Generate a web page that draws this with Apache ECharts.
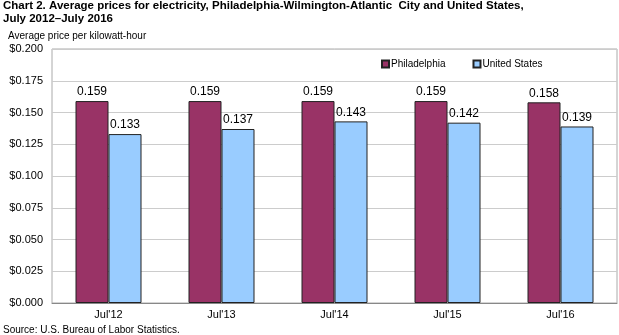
<!DOCTYPE html>
<html><head><meta charset="utf-8">
<script src="https://cdn.jsdelivr.net/npm/echarts@6/dist/echarts.min.js"></script>
<style>html,body{margin:0;padding:0;background:#fff}#c{width:619px;height:335px}</style>
</head><body><div id="c"></div>
<script>
const categories = ["Jul'12", "Jul'13", "Jul'14", "Jul'15", "Jul'16"];
const philadelphia = [0.159, 0.159, 0.159, 0.159, 0.158];
const unitedStates = [0.133, 0.137, 0.143, 0.142, 0.139];
const yTicks = [0, 0.025, 0.05, 0.075, 0.1, 0.125, 0.15, 0.175, 0.2];

const chart = echarts.init(document.getElementById('c'), null, {renderer: 'canvas'});
const F = 'Arial, "Liberation Sans", sans-serif';
chart.setOption({
  animation: false,
  textStyle: {fontFamily: F},
  title: [{
    text: 'Chart 2. Average prices for electricity, Philadelphia-Wilmington-Atlantic  City and United States,\nJuly 2012\u2013July 2016',
    left: 3, top: -1, padding: 0,
    textStyle: {fontFamily: F, fontSize: 11.5, fontWeight: 'bold', color: '#000', lineHeight: 13}
  }, {
    text: 'Average price per kilowatt-hour',
    left: 8, top: 30, padding: 0,
    textStyle: {fontFamily: F, fontSize: 10, fontWeight: 'normal', color: '#000', lineHeight: 12}
  }, {
    text: 'Source: U.S. Bureau of Labor Statistics.',
    left: 3, top: 324, padding: 0,
    textStyle: {fontFamily: F, fontSize: 10, fontWeight: 'normal', color: '#000', lineHeight: 12}
  }],
  legend: {
    left: 381, top: 59, padding: 0,
    itemWidth: 7, itemHeight: 7, itemGap: 27,
    icon: 'rect',
    textStyle: {fontFamily: F, fontSize: 10, color: '#000', padding: [0, 0, 0, -3]},
    data: ['Philadelphia', 'United States']
  },
  grid: {left: 52, right: 2, top: 49, bottom: 32, show: true, borderColor: '#aaa', borderWidth: 1},
  xAxis: {
    type: 'category', data: categories,
    axisLine: {lineStyle: {color: '#888'}},
    axisTick: {show: false},
    axisLabel: {fontFamily: F, fontSize: 11, color: '#000', margin: 6}
  },
  yAxis: {
    type: 'value', min: yTicks[0], max: yTicks[yTicks.length - 1], interval: 0.025,
    axisLine: {show: false}, axisTick: {show: false},
    splitLine: {lineStyle: {color: '#ccc'}},
    axisLabel: {fontFamily: F, fontSize: 11, color: '#000', margin: 9,
      formatter: v => '$' + v.toFixed(3)}
  },
  series: [{
    name: 'Philadelphia', type: 'bar', data: philadelphia,
    barWidth: 33, barGap: '0%',
    itemStyle: {color: '#993366', borderColor: '#222', borderWidth: 1},
    label: {show: true, position: 'top', distance: 3, fontFamily: F, fontSize: 12, color: '#000',
      formatter: p => p.value.toFixed(3)}
  }, {
    name: 'United States', type: 'bar', data: unitedStates,
    barWidth: 33,
    itemStyle: {color: '#99CCFF', borderColor: '#222', borderWidth: 1},
    label: {show: true, position: 'top', distance: 3, fontFamily: F, fontSize: 12, color: '#000',
      formatter: p => p.value.toFixed(3)}
  }]
});
</script></body></html>
